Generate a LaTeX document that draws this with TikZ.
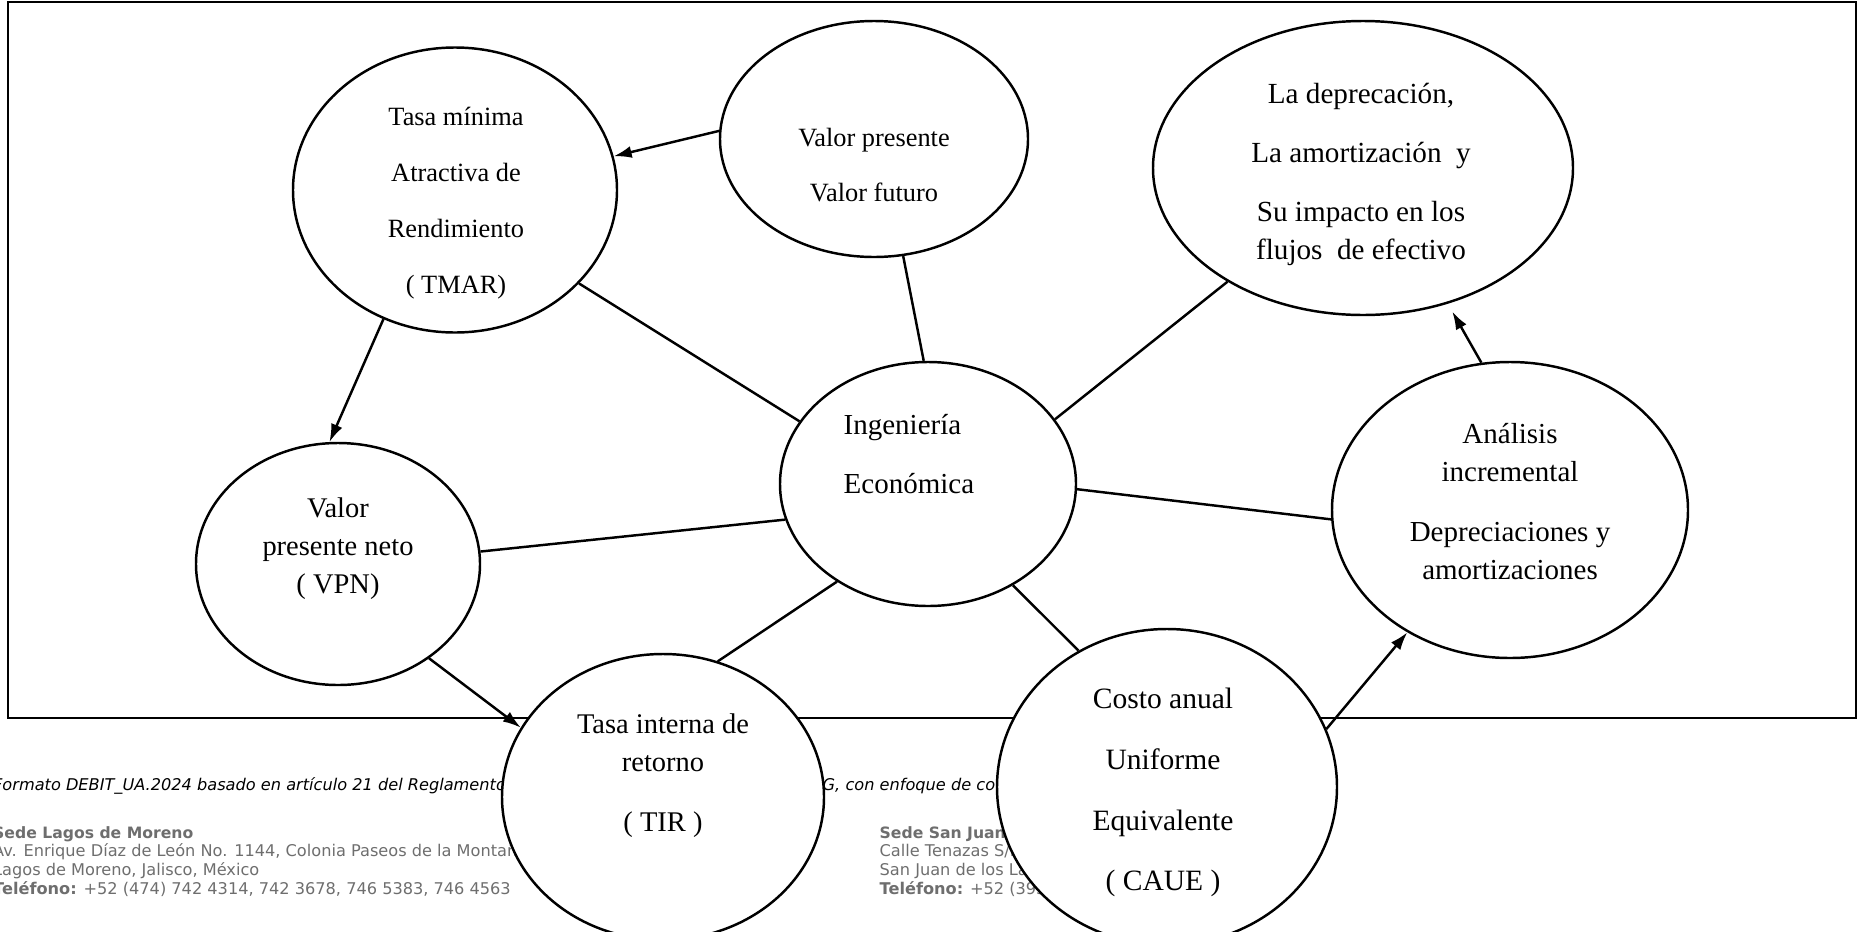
\documentclass[tikz,border=0pt]{standalone}
\usepackage{fontspec}
\setmainfont{Liberation Serif}
\newfontfamily\footfont{DejaVu Sans}
\usetikzlibrary{shapes.geometric,arrows.meta}
\definecolor{footgray}{HTML}{6E6E6E}

\begin{document}
\begin{tikzpicture}[
        bubble/.style={ellipse, draw, line width=0.7pt, fill=white, inner sep=0pt},
        conn/.style={line width=0.7pt},
        txt/.style={align=center, inner sep=0pt},
        foot/.style={anchor=base west, inner sep=0pt, text=footgray, font=\footfont\fontsize{4.6}{5.3}\selectfont},
        footb/.style={foot, font=\footfont\bfseries\fontsize{4.45}{5.3}\selectfont},
        >={Latex[length=1.8mm,width=1.2mm]}
    ]
        \useasboundingbox (0,0) rectangle (18.61,-9.32);

        % frame
        \draw[line width=0.8pt] (0.08,-0.02) rectangle (18.56,-7.18);

        % footer lines (partly hidden behind the bubbles)
        \node[foot, text=black, font=\footfont\itshape\fontsize{4.6}{5.3}\selectfont] (fmt) at (-0.075,-7.90) {Formato DEBIT\_UA.2024 basado en artículo 21 del Reglamento};
        \node[foot, text=black, font=\footfont\itshape\fontsize{4.6}{5.3}\selectfont] (fmtb) at (8.22,-7.90) {G, con enfoque de co};
        \node[footb] (sedea) at (-0.075,-8.38) {Sede Lagos de Moreno};
        \node[foot] (dira) at (-0.075,-8.567) {Av. Enrique Díaz de León No. 1144, Colonia Paseos de la Montaña};
        \node[foot] (ciua) at (-0.075,-8.754) {Lagos de Moreno, Jalisco, México};
        \node[foot] (tela) at (-0.075,-8.94) {\textbf{Teléfono:} +52 (474) 742 4314, 742 3678, 746 5383, 746 4563};
        \node[footb] (sedeb) at (8.79,-8.38) {Sede San Juan};
        \node[foot] (dirb) at (8.79,-8.567) {Calle Tenazas S/N};
        \node[foot] (ciub) at (8.79,-8.754) {San Juan de los Lagos};
        \node[foot] (telb) at (8.79,-8.94) {\textbf{Teléfono:} +52 (395)};

        % bubbles
        \node[bubble, minimum width=3.24cm, minimum height=2.85cm] (tmar) at (4.55,-1.90) {};
        \node[bubble, minimum width=3.08cm, minimum height=2.36cm] (vp) at (8.74,-1.39) {};
        \node[bubble, minimum width=4.20cm, minimum height=2.94cm] (dep) at (13.63,-1.68) {};
        \node[bubble, minimum width=2.96cm, minimum height=2.44cm] (ing) at (9.28,-4.84) {};
        \node[bubble, minimum width=2.84cm, minimum height=2.42cm] (vpn) at (3.38,-5.64) {};
        \node[bubble, minimum width=3.22cm, minimum height=2.86cm] (tir) at (6.63,-7.97) {};
        \node[bubble, minimum width=3.40cm, minimum height=3.16cm] (caue) at (11.67,-7.87) {};
        \node[bubble, minimum width=3.56cm, minimum height=2.96cm] (inc) at (15.10,-5.10) {};

        % texts
        \node[txt, font=\fontsize{7.5}{16}\selectfont] (tmar-txt) at (4.56,-2.03) {Tasa mínima\\Atractiva de\\Rendimiento\\( TMAR)};
        \node[txt, font=\fontsize{7.5}{15.4}\selectfont] (vp-txt) at (8.74,-1.65) {Valor presente\\Valor futuro};
        \node[txt, font=\fontsize{8.3}{10.8}\selectfont] (dep-txt) at (13.61,-1.745) {La deprecación,\\[6pt]La amortización\ \ y\\[6pt]Su impacto en los\\flujos\ \ de efectivo};
        \node[txt, align=left, anchor=west, font=\fontsize{8.25}{17}\selectfont] (ing-txt) at (8.43,-4.54) {Ingeniería\\Económica};
        \node[txt, font=\fontsize{8.1}{10.8}\selectfont] (vpn-txt) at (3.38,-5.485) {Valor\\presente neto\\( VPN)};
        \node[txt, font=\fontsize{8.1}{10.8}\selectfont] (tir-txt) at (6.63,-7.755) {Tasa interna de\\retorno\\[6.3pt]( TIR )};
        \node[txt, font=\fontsize{8.4}{17.3}\selectfont] (caue-txt) at (11.63,-7.925) {Costo anual\\Uniforme\\Equivalente\\( CAUE )};
        \node[txt, font=\fontsize{8.25}{10.8}\selectfont] (inc-txt) at (15.10,-5.015) {Análisis\\incremental\\[6.3pt]Depreciaciones y\\amortizaciones};

        % links
        \draw[conn, ->] (vp.177) -- (tmar.12);
        \draw[conn, ->] (tmar.-119) -- (vpn.94);
        \draw[conn] (tmar.-37) -- (ing.154.5);
        \draw[conn] (vp.-76) -- (ing.92);
        \draw[conn] (dep.-140) -- (ing.27.6);
        \draw[conn, ->, shorten >=0.09cm] (inc.101.5) -- (dep.-58);
        \draw[conn] (ing.-2) -- (inc.-177);
        \draw[conn] (vpn.5) -- (ing.-166);
        \draw[conn] (ing.-133) -- (tir.68);
        \draw[conn] (ing.-50) -- (caue.123);
        \draw[conn, ->] (vpn.-46) -- (tir.154);
        \draw[conn, ->] (caue.20) -- (inc.-130);
\end{tikzpicture}
\end{document}
